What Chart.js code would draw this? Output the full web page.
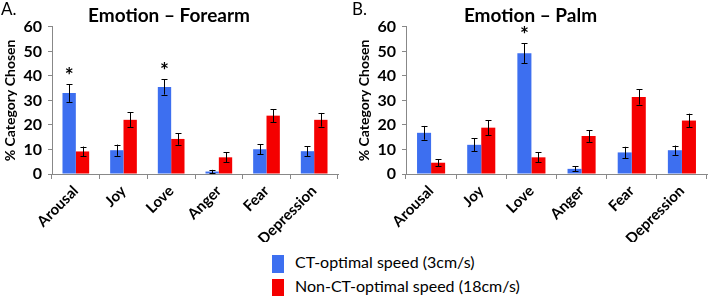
<!DOCTYPE html>
<html>
<head>
<meta charset="utf-8">
<script src="https://cdn.jsdelivr.net/npm/chart.js@4"></script>
<style>
  body { margin: 0; background: #fff; font-family: Lato, sans-serif; }
  #wrap { position: relative; width: 708px; height: 296px; }
  .panel { position: absolute; top: 0; width: 354px; height: 242px; }
  .tag { position: absolute; top: -2px; font-size: 17px; color: #000; }
  .legend { position: absolute; left: 272px; font-size: 16px; color: #000; }
  .legend span { display: inline-block; width: 12px; height: 18px; vertical-align: middle; margin-right: 11px; }
</style>
</head>
<body>
<div id="wrap">
  <div class="panel" style="left:0"><canvas id="forearmChart"></canvas></div>
  <div class="panel" style="left:354px"><canvas id="palmChart"></canvas></div>
  <div class="tag" style="left:1px">A.</div>
  <div class="tag" style="left:352px">B.</div>
  <div class="legend" style="top:252px"><span style="background:#3d6ff0"></span>CT-optimal speed (3cm/s)</div>
  <div class="legend" style="top:276px"><span style="background:#f50000"></span>Non-CT-optimal speed (18cm/s)</div>
</div>
<script>
const categories = ['Arousal', 'Joy', 'Love', 'Anger', 'Fear', 'Depression'];

// Forearm (A)
const forearmCT = [33, 9.7, 35.5, 1, 10.1, 9.3];
const forearmCTErr = [3.6, 2.3, 3.1, 0.7, 2, 2];
const forearmNonCT = [9.2, 22.1, 14.3, 6.8, 23.8, 22.1];
const forearmNonCTErr = [2, 3, 2.4, 2, 2.7, 2.8];
const forearmSig = [true, false, true, false, false, false];

// Palm (B)
const palmCT = [16.8, 11.9, 49.3, 2.1, 8.8, 9.7];
const palmCTErr = [2.8, 2.7, 4, 1, 2.3, 1.9];
const palmNonCT = [4.6, 18.9, 6.8, 15.5, 31.4, 21.8];
const palmNonCTErr = [1.5, 3.1, 2, 2.4, 3.1, 2.8];
const palmSig = [false, false, true, false, false, false];

const yTicks = [0, 10, 20, 30, 40, 50, 60];

// draws error bars and significance stars
const errorBarPlugin = {
  id: 'errorBars',
  afterDatasetsDraw(chart) {
    const ctx = chart.ctx;
    const y = chart.scales.y;
    ctx.save();
    ctx.strokeStyle = '#000';
    ctx.lineWidth = 1;
    chart.data.datasets.forEach((ds, di) => {
      const meta = chart.getDatasetMeta(di);
      meta.data.forEach((bar, i) => {
        const top = y.getPixelForValue(ds.data[i] + ds.err[i]);
        const bot = y.getPixelForValue(ds.data[i] - ds.err[i]);
        const x = Math.round(bar.x) + 0.5;
        ctx.beginPath();
        ctx.moveTo(x, top); ctx.lineTo(x, bot);
        ctx.moveTo(x - 3, Math.round(top) + 0.5); ctx.lineTo(x + 3, Math.round(top) + 0.5);
        ctx.moveTo(x - 3, Math.round(bot) + 0.5); ctx.lineTo(x + 3, Math.round(bot) + 0.5);
        ctx.stroke();
        if (ds.sig && ds.sig[i]) {
          ctx.fillStyle = '#000';
          ctx.font = 'bold 21px Lato';
          ctx.textAlign = 'center';
          ctx.textBaseline = 'middle';
          ctx.fillText('*', bar.x, top - 8);
        }
      });
    });
    ctx.restore();
  }
};

function makeChart(id, title, ct, ctErr, nonCt, nonCtErr, sig, padRight) {
  return new Chart(document.getElementById(id), {
    type: 'bar',
    data: {
      labels: categories,
      datasets: [{
        label: 'CT-optimal speed (3cm/s)',
        data: ct,
        err: ctErr,
        sig: sig,
        backgroundColor: '#3d6ff0',
        barPercentage: 1,
        categoryPercentage: 0.56
      },
      {
        label: 'Non-CT-optimal speed (18cm/s)',
        data: nonCt,
        err: nonCtErr,
        backgroundColor: '#f50000',
        barPercentage: 1,
        categoryPercentage: 0.56
      }]
    },
    options: {
      responsive: true,
      maintainAspectRatio: false,
      animation: false,
      layout: { padding: { right: padRight } },
      plugins: {
        legend: { display: false },
        tooltip: { enabled: false },
        title: {
          display: true,
          text: title,
          color: '#000',
          font: { family: 'Lato', size: 19, weight: 'bold', lineHeight: 1.1 },
          padding: { top: 5, bottom: 1 }
        }
      },
      scales: {
        x: {
          grid: { offset: true, drawOnChartArea: false, tickLength: 5, color: '#888' },
          border: { color: '#888' },
          ticks: {
            minRotation: 45, maxRotation: 45,
            color: '#000',
            font: { family: 'Lato', size: 15, weight: 'bold' }
          },
          afterFit: s => { s.height = 68; }
        },
        y: {
          min: 0, max: 60,
          afterBuildTicks: s => { s.ticks = yTicks.map(v => ({ value: v })); },
          grid: { drawOnChartArea: false, tickLength: 4, color: '#888' },
          border: { color: '#888' },
          ticks: {
            color: '#000', padding: 6,
            font: { family: 'Lato', size: 16, weight: 'bold' }
          },
          title: {
            display: true,
            text: '% Category Chosen',
            color: '#000',
            font: { family: 'Lato', size: 14, weight: 'bold' },
            padding: 2
          },
          afterFit: s => { s.width = 52; }
        }
      }
    },
    plugins: [errorBarPlugin]
  });
}

makeChart('forearmChart', 'Emotion – Forearm', forearmCT, forearmCTErr, forearmNonCT, forearmNonCTErr, forearmSig, 16);
makeChart('palmChart', 'Emotion – Palm', palmCT, palmCTErr, palmNonCT, palmNonCTErr, palmSig, 1);
</script>
</body>
</html>
